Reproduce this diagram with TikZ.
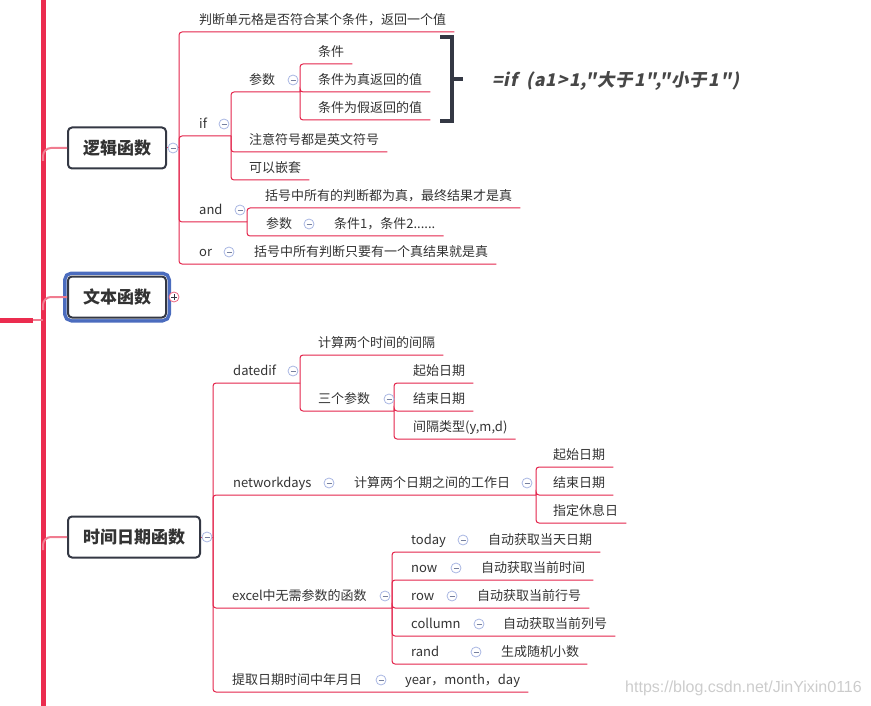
\documentclass[tikz,border=0pt]{standalone}
\usepackage{fontspec}
\setmainfont{Noto Sans CJK SC}
\newfontfamily\fmlfont{Noto Sans CJK SC}[FakeSlant=0.2, Ligatures=TeXOff, LetterSpace=5.5]
\newfontfamily\wmfont{Liberation Sans}
\definecolor{lnred}{HTML}{E3244B}
\definecolor{trkred}{HTML}{EB2C4F}
\definecolor{brpink}{HTML}{F07C90}
\definecolor{boxdk}{HTML}{343844}
\definecolor{txtdk}{HTML}{333333}
\definecolor{icoblue}{HTML}{A8B6E2}
\definecolor{selblue}{HTML}{4B6CBE}

\begin{document}
\begin{tikzpicture}[x=1pt, y=-1pt,
    tp/.style={anchor=south west, inner xsep=8pt, inner ysep=5pt, text height=10pt, text depth=2pt, text=txtdk, font=\fontsize{13}{15}\selectfont},
    box/.style={draw=boxdk, line width=2pt, rounded corners=4pt, fill=white, text=txtdk, font=\fontsize{17}{20}\selectfont\bfseries, minimum height=41pt, inner xsep=15pt},
    sel/.style={preaction={draw=selblue, line width=10pt}, preaction={draw=white, line width=3pt}},
    ico/.style={circle, draw=icoblue, fill=white, line width=0.8pt, minimum size=10pt, inner sep=0pt, path picture={\draw[icoblue!70!black, line width=0.8pt] ([xshift=-2.5pt]path picture bounding box.center) -- ([xshift=2.5pt]path picture bounding box.center);}},
    icoplus/.style={circle, draw=lnred!70, fill=white, line width=0.8pt, minimum size=10pt, inner sep=0pt, path picture={\draw[boxdk, line width=0.9pt] ([xshift=-3pt]path picture bounding box.center) -- ([xshift=3pt]path picture bounding box.center) ([yshift=-3pt]path picture bounding box.center) -- ([yshift=3pt]path picture bounding box.center);}},
    ln/.style={draw=lnred, line width=1pt, rounded corners=3pt},
    trunk/.style={draw=trkred, line width=5pt},
    tbr/.style={draw=brpink, line width=2pt, rounded corners=8pt},
    brk/.style={draw=boxdk, line width=4pt, miter limit=10}]
  \useasboundingbox (0,0) rectangle (871,706);

  % trunk
  \coordinate (trkT) at (43,-5);
  \coordinate (trkB) at (43,711);
  \coordinate (root) at (0,320);
  \coordinate (rootE) at (33,320);
  \draw[trunk] (trkT) -- (trkB);
  \draw[trunk] (root) -- (rootE);
  \draw[tbr] (rootE) -- (rootE -| trkT);

  % main topics
  \node[box] (lgc) at (117,148) {逻辑函数};
  \node[box, sel] (txt) at (117,297) {文本函数};
  \node[box] (tim) at (134,537) {时间日期函数};
  \draw[tbr] ([yshift=-13pt]lgc.west -| trkT) |- (lgc.west);
  \draw[tbr] ([yshift=-13pt]txt.west -| trkT) |- (txt.west);
  \draw[tbr] ([yshift=-13pt]tim.west -| trkT) |- (tim.west);

  % logic functions
  \node[tp] (judge) at (191,32) {判断单元格是否符合某个条件，返回一个值};
  \node[tp] (if) at (191,136) {if};
  \node[tp] (ifP) at (241,92) {参数};
  \node[tp] (cond) at (310,64) {条件};
  \node[tp] (condT) at (310,92) {条件为真返回的值};
  \node[tp] (condF) at (310,120) {条件为假返回的值};
  \node[tp] (note) at (241,152) {注意符号都是英文符号};
  \node[tp] (nest) at (241,180) {可以嵌套};
  \node[tp] (and) at (191,222) {and};
  \node[tp] (andT) at (257,208) {括号中所有的判断都为真，最终结果才是真};
  \node[tp] (andP) at (258,236) {参数};
  \node[tp] (andC) at (326,236) {条件1，条件2......};
  \node[tp] (or) at (191,264) {or};
  \node[tp] (orT) at (246,264) {括号中所有判断只要有一个真结果就是真};

  \coordinate (lgcF) at (179,148);
  \coordinate (ifF) at (231,136);
  \coordinate (ifPF) at (300,92);
  \coordinate (andF) at (247,222);
  \draw[ln] (lgc.east) -- (lgcF);
  \draw[ln] (lgcF) |- (judge.south east);
  \draw[ln] (lgcF) |- (ifF);
  \draw[ln] (lgcF) |- (andF);
  \draw[ln] (lgcF) |- (orT.south east);
  \draw[ln] (ifF) |- (ifPF);
  \draw[ln] (ifF) |- (note.south east);
  \draw[ln] (ifF) |- (nest.south east);
  \draw[ln] (ifPF) |- (cond.south east);
  \draw[ln] (ifPF) |- (condT.south east);
  \draw[ln] (ifPF) |- (condF.south east);
  \draw[ln] (andF) |- (andT.south east);
  \draw[ln] (andF) |- (andC.south east);

  % bracket and formula
  \coordinate (brkT) at (440,37);
  \coordinate (brkB) at (440,121);
  \coordinate (brkM) at (452,79);
  \draw[brk] (brkT) -- (brkT -| brkM) -- (brkB -| brkM) -- (brkB);
  \draw[brk] (brkM) -- ++(11,0);
  \node[anchor=west, inner sep=0pt, text=txtdk!90, font=\fmlfont\fontsize{17.5}{20}\selectfont\bfseries] (fml) at (492,81) {=if\hspace{9pt}(a1>1,"大于1","小于1")};

  % date and time functions
  \node[tp] (ddf) at (225,383) {datedif};
  \node[tp] (ddfT) at (310,355) {计算两个时间的间隔};
  \node[tp] (ddfP) at (310,411) {三个参数};
  \node[tp] (dS) at (405,383) {起始日期};
  \node[tp] (dE) at (405,411) {结束日期};
  \node[tp] (dK) at (405,439) {间隔类型(y,m,d)};
  \node[tp] (nwd) at (225,495) {networkdays};
  \node[tp] (nwdT) at (346,495) {计算两个日期之间的工作日};
  \node[tp] (nS) at (545,467) {起始日期};
  \node[tp] (nE) at (545,495) {结束日期};
  \node[tp] (nR) at (545,523) {指定休息日};
  \node[tp] (exl) at (224,608) {excel中无需参数的函数};
  \node[tp] (tdy) at (403,552) {today};
  \node[tp] (tdyT) at (480,552) {自动获取当天日期};
  \node[tp] (now) at (403,580) {now};
  \node[tp] (nowT) at (473,580) {自动获取当前时间};
  \node[tp] (row) at (403,608) {row};
  \node[tp] (rowT) at (469,608) {自动获取当前行号};
  \node[tp] (col) at (403,636) {collumn};
  \node[tp] (colT) at (495,636) {自动获取当前列号};
  \node[tp] (rnd) at (403,664) {rand};
  \node[tp] (rndT) at (493,664) {生成随机小数};
  \node[tp] (ymd) at (224,692) {提取日期时间中年月日};
  \node[tp] (ymdT) at (397,692) {year，month，day};

  \coordinate (timF) at (213,537);
  \coordinate (ddfF) at (300,383);
  \coordinate (ddfPF) at (394,411);
  \coordinate (nwdF) at (536,495);
  \coordinate (exlF) at (392,608);
  \draw[ln] (tim.east) -- (timF);
  \draw[ln] (timF) |- (ddfF);
  \draw[ln] (timF) |- (nwdF);
  \draw[ln] (timF) |- (exlF);
  \draw[ln] (timF) |- (ymdT.south east);
  \draw[ln] (ddfF) |- (ddfT.south east);
  \draw[ln] (ddfF) |- (ddfPF);
  \draw[ln] (ddfPF) |- (dS.south east);
  \draw[ln] (ddfPF) |- (dE.south east);
  \draw[ln] (ddfPF) |- (dK.south east);
  \draw[ln] (nwdF) |- (nS.south east);
  \draw[ln] (nwdF) |- (nE.south east);
  \draw[ln] (nwdF) |- (nR.south east);
  \draw[ln] (exlF) |- (tdyT.south east);
  \draw[ln] (exlF) |- (nowT.south east);
  \draw[ln] (exlF) |- (rowT.south east);
  \draw[ln] (exlF) |- (colT.south east);
  \draw[ln] (exlF) |- (rndT.south east);

  % collapse icons
  \node[ico] (lgcI) at (173,148) {};
  \node[icoplus] (txtI) at (174,297) {};
  \node[ico] (timI) at (207,537) {};
  \node[ico] (ifI) at (224,124) {};
  \node[ico] (ifPI) at (293,80) {};
  \node[ico] (andI) at (240,210) {};
  \node[ico] (andPI) at (309,224) {};
  \node[ico] (orI) at (229,252) {};
  \node[ico] (ddfI) at (293,371) {};
  \node[ico] (ddfPI) at (389,399) {};
  \node[ico] (nwdI) at (329,483) {};
  \node[ico] (nwdTI) at (527,483) {};
  \node[ico] (exlI) at (385,596) {};
  \node[ico] (tdyI) at (463,540) {};
  \node[ico] (nowI) at (456,568) {};
  \node[ico] (rowI) at (452,596) {};
  \node[ico] (colI) at (479,624) {};
  \node[ico] (rndI) at (476,652) {};
  \node[ico] (ymdI) at (381,680) {};

  % watermark
  \node[anchor=east, inner sep=0pt, text=black!20, font=\wmfont\fontsize{16}{18}\selectfont] (wm) at (862,688) {https://blog.csdn.net/JinYixin0116};
\end{tikzpicture}
\end{document}
